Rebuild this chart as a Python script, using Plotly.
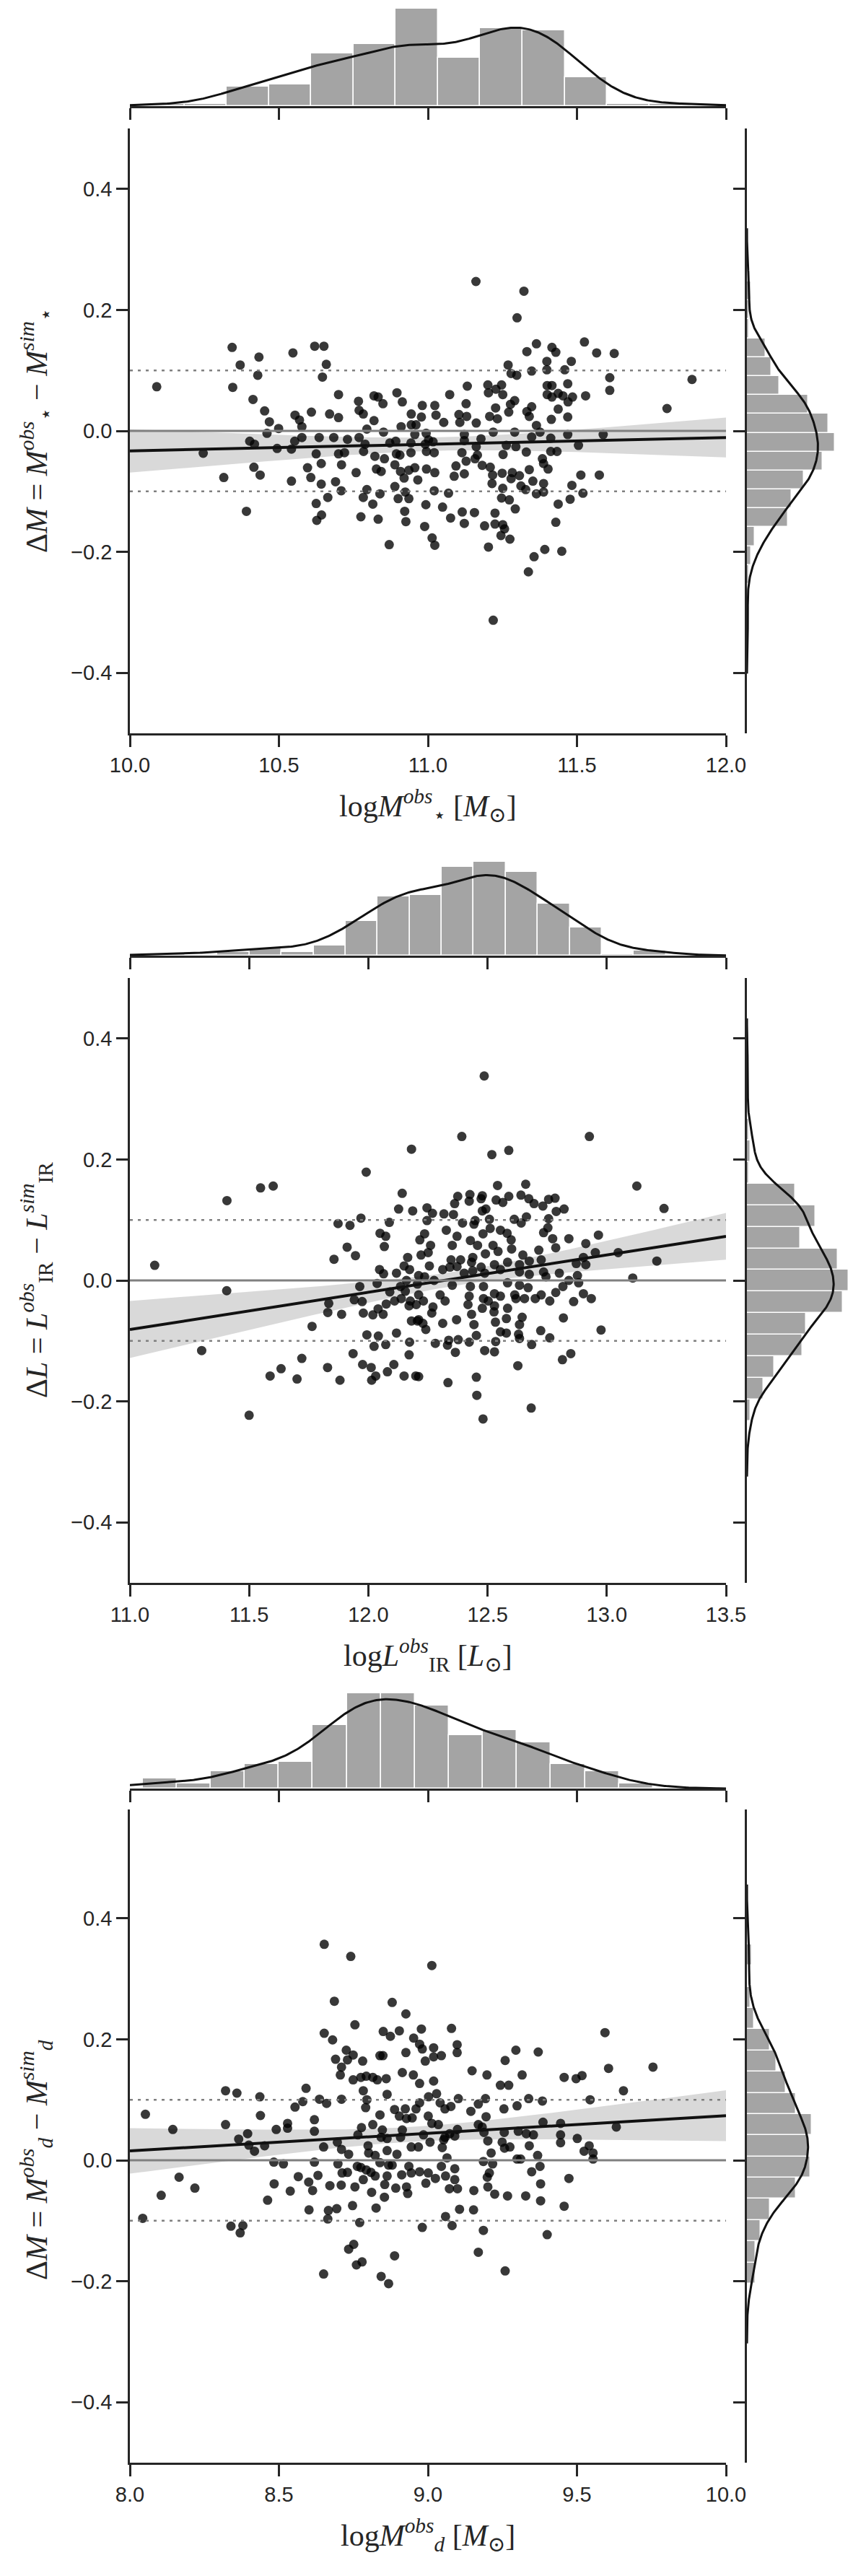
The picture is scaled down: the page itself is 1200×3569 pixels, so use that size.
import numpy as np
import plotly.graph_objects as go

# ===================== DATA =====================
# Panel 1: stellar mass
p1_x = [10.090, 10.246, 10.315, 10.343, 10.370, 10.345, 10.433, 10.429, 10.413, 10.452,
        10.468, 10.499, 10.460, 10.402, 10.418, 10.494, 10.416, 10.437, 10.391, 10.542,
        10.547, 10.620, 10.651, 10.659, 10.646, 10.554, 10.569, 10.577, 10.577, 10.553,
        10.542, 10.609, 10.700, 10.670, 10.700, 10.635, 10.625, 10.596, 10.642, 10.607,
        10.642, 10.690, 10.709, 10.664, 10.625, 10.643, 10.627, 10.684, 10.700, 10.720,
        10.710, 10.730, 10.767, 10.769, 10.783, 10.819, 10.833, 10.849, 10.819, 10.795,
        10.769, 10.789, 10.784, 10.759, 10.822, 10.854, 10.827, 10.843, 10.795, 10.783,
        10.815, 10.839, 10.775, 10.833, 10.870, 10.851, 10.896, 10.914, 10.944, 10.978,
        10.910, 10.944, 10.872, 10.894, 10.906, 10.943, 10.889, 10.908, 10.920, 10.936,
        10.956, 10.966, 10.889, 10.900, 10.924, 10.936, 10.922, 10.926, 10.993, 10.989,
        11.014, 10.981, 10.995, 10.991, 10.995, 10.994, 10.960, 10.956, 10.892, 10.943,
        11.002,
        11.161, 11.322, 11.299, 11.364, 11.332, 11.416, 11.429, 11.525, 11.566, 11.625,
        11.399, 11.481, 11.269, 11.279, 11.298, 11.348, 11.399, 11.459, 11.610, 11.610,
        11.886, 11.802, 11.132, 11.073, 11.201, 11.247, 11.203, 11.228, 11.251, 11.400,
        11.416, 11.469, 11.400, 11.416, 11.437, 11.453, 11.485, 11.470, 11.529, 11.291,
        11.277, 11.348, 11.128, 11.227, 11.271, 11.332, 11.340, 11.437, 11.469, 11.414,
        11.023, 11.027, 11.053, 11.104, 11.130, 11.107, 11.162, 11.207, 11.233, 11.364,
        11.376, 11.219, 11.291, 11.122, 11.178, 11.469, 11.588, 11.017, 11.122, 11.348,
        11.412, 11.505, 11.263, 11.295, 11.162, 11.021, 11.114, 11.166, 11.252, 11.330,
        11.412, 11.433, 11.128, 11.158, 11.182, 11.384, 11.388, 11.094, 11.209, 11.403,
        11.023, 11.340, 11.088, 11.122, 11.217, 11.249, 11.283, 11.307, 11.279, 11.513,
        11.575, 11.352, 11.215, 11.388, 11.021, 11.069, 11.251, 11.312, 11.328, 11.364,
        11.388, 11.483, 11.520, 11.247, 11.273, 11.477, 11.437, 11.049, 11.115, 11.156,
        11.225, 11.293, 11.076, 11.122, 11.190, 11.225, 11.251, 11.257, 11.429, 11.245,
        11.275, 11.023, 11.203, 11.356, 11.392, 11.449, 11.337, 11.219]
p1_y = [0.073, -0.037, -0.077, 0.138, 0.109, 0.072, 0.122, 0.092, 0.052, 0.033,
        0.015, 0.004, -0.004, -0.017, -0.022, -0.029, -0.060, -0.073, -0.133, -0.083,
        0.129, 0.140, 0.140, 0.110, 0.089, 0.026, 0.018, 0.007, -0.011, -0.017,
        -0.030, 0.031, 0.060, 0.028, 0.022, -0.011, -0.038, -0.061, -0.054, -0.077,
        -0.088, -0.084, -0.099, -0.110, -0.120, -0.139, -0.148, -0.011, -0.038, -0.036,
        -0.056, -0.014, 0.049, 0.034, 0.028, 0.058, 0.056, 0.045, 0.017, 0.003,
        -0.011, -0.022, -0.034, -0.069, -0.042, -0.046, -0.063, -0.067, -0.097, -0.110,
        -0.121, -0.104, -0.142, -0.146, -0.188, -0.002, 0.063, 0.048, 0.028, 0.023,
        0.007, 0.010, -0.020, -0.038, -0.040, -0.036, -0.056, -0.067, -0.078, -0.065,
        -0.061, -0.081, -0.092, -0.112, -0.101, -0.112, -0.133, -0.150, -0.122, -0.158,
        -0.177, 0.042, -0.063, -0.022, -0.034, -0.004, 0.010, -0.006, -0.017, -0.020,
        -0.015,
        0.247, 0.231, 0.187, 0.144, 0.131, 0.138, 0.130, 0.147, 0.129, 0.128,
        0.115, 0.115, 0.109, 0.095, 0.092, 0.099, 0.101, 0.101, 0.088, 0.067,
        0.085, 0.037, 0.074, 0.060, 0.076, 0.076, 0.063, 0.069, 0.060, 0.075,
        0.075, 0.078, 0.060, 0.056, 0.062, 0.058, 0.056, 0.048, 0.058, 0.050,
        0.044, 0.040, 0.045, 0.038, 0.031, 0.032, 0.024, 0.036, 0.023, 0.019,
        0.042, 0.026, 0.014, 0.027, 0.024, 0.014, 0.013, 0.024, 0.020, 0.009,
        -0.002, -0.002, -0.002, -0.006, -0.013, -0.006, -0.006, -0.018, -0.016, -0.010,
        -0.012, -0.024, -0.024, -0.026, -0.026, -0.036, -0.036, -0.040, -0.039, -0.035,
        -0.034, -0.034, -0.050, -0.046, -0.057, -0.046, -0.054, -0.058, -0.060, -0.063,
        -0.069, -0.064, -0.075, -0.071, -0.073, -0.070, -0.069, -0.074, -0.079, -0.073,
        -0.073, -0.083, -0.087, -0.087, -0.099, -0.103, -0.095, -0.091, -0.097, -0.104,
        -0.101, -0.090, -0.103, -0.111, -0.114, -0.113, -0.121, -0.126, -0.134, -0.135,
        -0.136, -0.129, -0.144, -0.153, -0.157, -0.154, -0.155, -0.162, -0.151, -0.173,
        -0.179, -0.189, -0.192, -0.208, -0.196, -0.199, -0.233, -0.313]
p1_xticks = [10.0, 10.5, 11.0, 11.5, 12.0]
p1_xhist_start, p1_xhist_width = 10.041, 0.1418
p1_xhist_counts = [1, 1, 10, 11, 27, 32, 50, 25, 40, 39, 15, 1, 1]
p1_yhist_start, p1_yhist_width = -0.3155, 0.03125
p1_yhist_counts = [1, 0, 1, 2, 4, 20, 22, 28, 37, 43, 40, 30, 16, 12, 9, 1, 1, 2]

# Panel 2: IR luminosity
p2_x = [11.104, 11.407, 11.406, 11.301, 11.500, 11.548, 11.601, 11.634, 11.588, 11.701,
        11.721, 11.764, 11.829, 11.881, 11.834, 11.830, 11.888, 11.856, 11.911, 11.946,
        11.873, 11.923, 11.969, 11.991, 12.181, 12.142, 12.127, 12.186, 12.088, 12.049,
        12.073, 12.067, 12.165, 12.150, 12.173, 12.047, 12.064, 12.118, 11.964, 12.037,
        11.941, 11.974, 11.979, 12.019, 12.041, 12.062, 12.090, 12.075, 12.110, 12.138,
        12.155, 12.176, 12.171, 12.201, 12.181, 12.206, 11.994, 12.042, 12.073, 12.024,
        12.118, 12.173, 12.171, 11.936, 11.976, 12.012, 12.031, 12.014, 12.080, 12.107,
        12.150, 12.199, 12.135, 12.160, 12.206,
        12.486, 12.392, 12.927, 12.518, 12.589, 12.542, 12.660, 13.126, 13.240, 12.375,
        12.362, 12.426, 12.423, 12.478, 12.473, 12.536, 12.564, 12.589, 12.640, 12.673,
        12.695, 12.732, 12.756, 12.783, 12.246, 12.269, 12.317, 12.357, 12.478, 12.493,
        12.788, 12.821, 12.246, 12.395, 12.448, 12.508, 12.612, 12.641, 12.663, 12.756,
        12.327, 12.443, 12.511, 12.554, 12.582, 12.735, 12.753, 12.236, 12.216, 12.372,
        12.428, 12.481, 12.458, 12.523, 12.599, 12.601, 12.773, 12.786, 12.841, 12.912,
        12.965, 12.352, 12.261, 12.221, 12.251, 12.347, 12.387, 12.438, 12.491, 12.544,
        12.648, 12.715, 12.952, 13.048, 13.210, 12.256, 12.312, 12.342, 12.372, 12.433,
        12.473, 12.529, 12.584, 12.634, 12.675, 12.725, 12.872, 12.912, 12.902, 12.211,
        12.236, 12.276, 12.402, 12.438, 12.488, 12.554, 12.634, 12.675, 12.735, 12.745,
        12.801, 12.877, 13.109, 12.352, 12.428, 12.483, 12.584, 12.634, 12.670, 12.816,
        12.841, 12.882, 12.211, 12.301, 12.322, 12.423, 12.483, 12.529, 12.554, 12.614,
        12.619, 12.655, 12.700, 12.725, 12.761, 12.786, 12.861, 12.902, 12.935, 12.231,
        12.271, 12.266, 12.418, 12.433, 12.478, 12.503, 12.529, 12.527, 12.584, 12.211,
        12.229, 12.241, 12.312, 12.370, 12.443, 12.533, 12.579, 12.645, 12.634, 12.818,
        12.723, 12.976, 12.453, 12.554, 12.579, 12.630, 12.634, 12.761, 12.281, 12.332,
        12.337, 12.377, 12.423, 12.534, 12.685, 12.365, 12.488, 12.529, 12.849, 12.814,
        12.627, 12.211, 12.334, 12.453, 12.455, 12.683, 12.481]
p2_y = [0.025, 0.132, -0.017, -0.116, -0.223, 0.153, 0.156, -0.146, -0.158, -0.163,
        -0.129, -0.076, -0.144, -0.165, -0.038, -0.053, -0.056, 0.035, 0.055, 0.041,
        0.094, 0.091, 0.103, 0.179, 0.217, 0.144, 0.118, 0.115, 0.096, 0.078,
        0.073, 0.056, 0.038, 0.024, 0.018, 0.018, 0.011, 0.012, -0.010, -0.005,
        -0.032, -0.035, -0.054, -0.057, -0.047, -0.056, -0.019, -0.039, -0.034, -0.030,
        -0.018, -0.034, -0.042, -0.040, -0.067, -0.067, -0.090, -0.092, -0.106, -0.109,
        -0.087, -0.102, -0.123, -0.121, -0.139, -0.144, -0.158, -0.165, -0.151, -0.139,
        -0.158, -0.158, -0.010, 0.000, -0.006,
        0.338, 0.238, 0.238, 0.208, 0.215, 0.157, 0.159, 0.156, 0.119, 0.139,
        0.127, 0.142, 0.131, 0.140, 0.135, 0.133, 0.129, 0.139, 0.141, 0.135,
        0.127, 0.123, 0.134, 0.136, 0.120, 0.111, 0.110, 0.109, 0.115, 0.118,
        0.114, 0.118, 0.099, 0.095, 0.099, 0.101, 0.101, 0.095, 0.105, 0.102,
        0.083, 0.093, 0.086, 0.083, 0.078, 0.079, 0.087, 0.077, 0.067, 0.073,
        0.066, 0.077, 0.058, 0.058, 0.067, 0.052, 0.069, 0.054, 0.069, 0.061,
        0.075, 0.058, 0.058, 0.042, 0.046, 0.034, 0.034, 0.038, 0.044, 0.048,
        0.042, 0.050, 0.046, 0.046, 0.032, 0.024, 0.018, 0.022, 0.023, 0.030,
        0.022, 0.026, 0.030, 0.026, 0.032, 0.034, 0.028, 0.026, 0.038, 0.008,
        0.006, 0.000, 0.012, 0.016, 0.012, 0.018, 0.014, 0.010, 0.014, 0.006,
        0.012, 0.008, 0.004, -0.008, -0.010, -0.010, -0.004, -0.008, -0.012, -0.010,
        0.000, -0.004, -0.024, -0.024, -0.034, -0.026, -0.030, -0.022, -0.026, -0.024,
        -0.030, -0.030, -0.030, -0.024, -0.034, -0.020, -0.035, -0.022, -0.030, -0.034,
        -0.044, -0.054, -0.040, -0.056, -0.046, -0.034, -0.042, -0.052, -0.046, -0.065,
        -0.071, -0.081, -0.071, -0.065, -0.073, -0.069, -0.063, -0.061, -0.073, -0.062,
        -0.083, -0.082, -0.091, -0.085, -0.087, -0.089, -0.096, -0.095, -0.104, -0.107,
        -0.099, -0.098, -0.102, -0.101, -0.106, -0.119, -0.116, -0.118, -0.121, -0.131,
        -0.141, -0.159, -0.169, -0.160, -0.190, -0.211, -0.229]
p2_xticks = [11.0, 11.5, 12.0, 12.5, 13.0, 13.5]
p2_xhist_start, p2_xhist_width = 11.099, 0.1343
p2_xhist_counts = [1, 0, 2, 4, 2, 6, 20, 34, 35, 51, 54, 48, 30, 16, 1, 3]
p2_yhist_start, p2_yhist_width = -0.2325, 0.0357
p2_yhist_counts = [2, 9, 15, 30, 32, 52, 55, 49, 29, 37, 26, 1, 2, 1, 0, 1]

# Panel 3: dust mass
p3_x = [8.052, 8.043, 8.105, 8.144, 8.165, 8.218, 8.321, 8.359, 8.321, 8.339,
        8.379, 8.370, 8.365, 8.395, 8.399, 8.418, 8.436, 8.438, 8.452, 8.462,
        8.483, 8.484, 8.491, 8.515, 8.529, 8.529, 8.538, 8.554, 8.580, 8.591,
        8.565, 8.600, 8.613, 8.601, 8.619, 8.619, 8.619, 8.631, 8.636, 8.652,
        8.652, 8.680, 8.686, 8.690, 8.660, 8.650, 8.666, 8.664, 8.650, 8.671,
        8.694, 8.696, 8.698, 8.709, 8.710, 8.706, 8.710, 8.726, 8.730, 8.749,
        8.741, 8.755, 8.749, 8.781, 8.775, 8.793, 8.815, 8.830, 8.860, 8.783,
        8.795, 8.791, 8.863, 8.839, 8.815, 8.777, 8.765, 8.710, 8.734, 8.763,
        8.775, 8.793, 8.809, 8.823, 8.783, 8.730, 8.712, 8.755, 8.747, 8.771,
        8.751, 8.734, 8.779, 8.760, 8.811, 8.826, 8.843, 8.868, 8.888, 8.799,
        8.801, 8.823, 8.839, 8.843, 8.847, 8.863, 8.863, 8.868, 8.880, 8.863,
        8.855, 8.892, 8.854, 8.896, 8.912, 8.928, 8.932, 8.936, 8.944, 8.880,
        8.926, 8.850, 8.874, 8.904, 8.952, 8.926, 8.914, 8.951, 8.839, 8.849,
        8.888, 8.904, 8.924, 8.928, 8.947, 8.960, 8.914, 8.908, 8.944,
        9.013, 8.978, 9.079, 9.594, 8.972, 8.981, 9.019, 9.019, 9.045, 8.991,
        9.098, 9.098, 9.295, 9.370, 9.259, 9.606, 9.755, 9.148, 9.198, 9.316,
        9.457, 9.497, 9.517, 8.972, 9.019, 9.243, 9.271, 9.656, 9.002, 9.029,
        9.102, 9.193, 9.338, 9.384, 9.544, 8.972, 9.041, 9.057, 9.077, 9.169,
        9.144, 9.255, 9.299, 9.001, 9.195, 9.013, 9.035, 9.169, 9.182, 9.386,
        9.445, 9.632, 9.099, 9.073, 9.090, 8.985, 9.057, 9.256, 9.303, 9.330,
        9.354, 9.445, 9.188, 8.968, 9.007, 9.048, 9.053, 9.201, 9.249, 9.257,
        9.275, 9.340, 9.445, 9.501, 9.541, 9.524, 9.554, 9.554, 9.212, 9.368,
        9.064, 9.186, 9.217, 9.299, 9.311, 9.376, 9.045, 9.090, 8.972, 9.001,
        9.025, 8.993, 9.059, 9.090, 9.206, 9.199, 9.348, 9.473, 9.072, 9.099,
        9.154, 9.201, 9.224, 9.267, 9.328, 9.378, 9.378, 9.457, 9.106, 9.153,
        9.059, 8.981, 9.081, 9.186, 9.400, 9.169, 9.259]
p3_y = [0.076, -0.096, -0.058, 0.051, -0.028, -0.046, 0.115, 0.111, 0.059, -0.109,
        -0.108, -0.120, 0.035, 0.044, 0.025, 0.015, 0.105, 0.074, 0.024, -0.066,
        -0.003, -0.039, 0.051, -0.006, 0.061, 0.053, -0.051, 0.088, 0.097, 0.119,
        -0.027, -0.036, -0.050, -0.082, 0.067, 0.048, -0.003, -0.025, 0.101, 0.357,
        0.210, 0.199, 0.263, 0.167, 0.094, 0.022, -0.083, -0.097, -0.188, -0.042,
        -0.080, 0.030, -0.006, -0.041, 0.101, 0.141, 0.154, 0.182, 0.166, 0.174,
        0.337, 0.224, 0.133, 0.164, 0.137, 0.139, 0.137, 0.133, 0.135, 0.115,
        0.100, 0.087, 0.109, 0.075, 0.059, 0.054, 0.042, 0.018, 0.010, -0.010,
        -0.012, -0.016, -0.020, -0.026, -0.032, -0.020, -0.021, -0.044, -0.075, -0.103,
        -0.139, -0.147, -0.168, -0.173, -0.053, -0.079, -0.192, -0.204, -0.158, 0.024,
        0.012, 0.008, -0.004, 0.038, 0.050, 0.036, 0.016, -0.008, -0.008, -0.026,
        -0.040, -0.046, -0.061, 0.010, -0.024, -0.044, -0.055, -0.010, -0.021, 0.261,
        0.242, 0.213, 0.205, 0.214, 0.202, 0.178, 0.145, 0.141, 0.173, 0.173,
        0.084, 0.073, 0.085, 0.069, 0.070, 0.085, 0.050, 0.038, 0.022,
        0.322, 0.217, 0.218, 0.211, 0.192, 0.184, 0.186, 0.171, 0.173, 0.164,
        0.191, 0.178, 0.182, 0.179, 0.165, 0.152, 0.154, 0.148, 0.141, 0.141,
        0.137, 0.135, 0.140, 0.127, 0.131, 0.124, 0.124, 0.115, 0.105, 0.110,
        0.102, 0.102, 0.102, 0.098, 0.100, 0.095, 0.095, 0.085, 0.089, 0.093,
        0.081, 0.085, 0.090, 0.073, 0.072, 0.061, 0.059, 0.059, 0.055, 0.063,
        0.061, 0.055, 0.051, 0.044, 0.040, 0.042, 0.038, 0.046, 0.048, 0.044,
        0.042, 0.042, 0.046, 0.022, 0.030, 0.021, 0.034, 0.032, 0.030, 0.020,
        0.022, 0.024, 0.029, 0.036, 0.024, 0.015, 0.012, 0.002, 0.012, 0.008,
        0.004, -0.002, -0.006, 0.002, 0.002, -0.010, -0.010, -0.014, -0.019, -0.021,
        -0.030, -0.038, -0.026, -0.032, -0.021, -0.028, -0.019, -0.030, -0.047, -0.047,
        -0.050, -0.044, -0.056, -0.059, -0.059, -0.039, -0.067, -0.076, -0.081, -0.082,
        -0.093, -0.111, -0.108, -0.116, -0.123, -0.152, -0.183]
p3_xticks = [8.0, 8.5, 9.0, 9.5, 10.0]
p3_xhist_bins = 15
p3_yhist_bins = 16

yticks = [-0.4, -0.2, 0.0, 0.2, 0.4]
ref_levels = [0.0, 0.1, -0.1]

# ===================== STYLE / LAYOUT =====================
W, H = 1200, 3569
INK = '#262626'
TICKFONT = dict(family='Liberation Sans, Arial, sans-serif', size=29, color=INK)
LABFONT = dict(family='Liberation Serif, DejaVu Serif, serif', size=42, color=INK)
BARCOL = '#a4a4a4'
MX0, MX1 = 180, 1006      # main axes x pixels
RX0, RX1 = 1035, 1200     # right marginal x pixels


def px(v):
    return v / W


def py(v):
    return 1 - v / H


def kde(data, grid):
    d = np.asarray(data, float)
    n = len(d)
    bw = d.std(ddof=1) * n ** (-0.2)
    z = (grid[:, None] - d[None, :]) / bw
    return np.exp(-0.5 * z ** 2).sum(1) / (n * bw * np.sqrt(2 * np.pi)), bw


def regfit(x, y, lo, hi):
    x = np.asarray(x, float)
    y = np.asarray(y, float)
    b, a = np.polyfit(x, y, 1)
    g = np.linspace(lo, hi, 120)
    yh = a + b * g
    n = len(x)
    s = np.sqrt(((y - (a + b * x)) ** 2).sum() / (n - 2))
    sxx = ((x - x.mean()) ** 2).sum()
    se = s * np.sqrt(1.0 / n + (g - x.mean()) ** 2 / sxx)
    return g, yh, yh - 1.96 * se, yh + 1.96 * se


def hist_from(start, width, counts):
    c = np.asarray(counts, float)
    edges = start + width * np.arange(len(c) + 1)
    dens = c / (c.sum() * width)
    return edges, dens


p3_xc, p3_xe = np.histogram(p3_x, bins=p3_xhist_bins)
p3_yc, p3_ye = np.histogram(p3_y, bins=p3_yhist_bins)

panels = [
    dict(x=p1_x, y=p1_y, xr=[10.0, 12.0], yr=[-0.5, 0.5], xticks=p1_xticks,
         xh=hist_from(p1_xhist_start, p1_xhist_width, p1_xhist_counts),
         yh=hist_from(p1_yhist_start, p1_yhist_width, p1_yhist_counts),
         top=178, bot=1016, mtop=0, mbot=147, bar_top=12, bar_right=1157,
         ylab='Δ<i>M</i> = <i>M</i><sup><i>obs</i></sup><sub>⋆</sub> − <i>M</i><sup><i>sim</i></sup><sub>⋆</sub>',
         xlab='log<i>M</i><sup><i>obs</i></sup><sub>⋆</sub> [<i>M</i><sub>⊙</sub>]'),
    dict(x=p2_x, y=p2_y, xr=[11.0, 13.5], yr=[-0.5, 0.5], xticks=p2_xticks,
         xh=hist_from(p2_xhist_start, p2_xhist_width, p2_xhist_counts),
         yh=hist_from(p2_yhist_start, p2_yhist_width, p2_yhist_counts),
         top=1355, bot=2193, mtop=1174, mbot=1324, bar_top=1194, bar_right=1176,
         ylab='Δ<i>L</i> = <i>L</i><sup><i>obs</i></sup><sub>IR</sub> − <i>L</i><sup><i>sim</i></sup><sub>IR</sub>',
         xlab='log<i>L</i><sup><i>obs</i></sup><sub>IR</sub> [<i>L</i><sub>⊙</sub>]'),
    dict(x=p3_x, y=p3_y, xr=[8.0, 10.0], yr=[-0.5, 0.58], xticks=p3_xticks,
         xh=(p3_xe, p3_xc / (p3_xc.sum() * (p3_xe[1] - p3_xe[0]))),
         yh=(p3_ye, p3_yc / (p3_yc.sum() * (p3_ye[1] - p3_ye[0]))),
         top=2507, bot=3412, mtop=2326, mbot=2478, bar_top=2346, bar_right=1125,
         ylab='Δ<i>M</i> = <i>M</i><sup><i>obs</i></sup><sub><i>d</i></sub> − <i>M</i><sup><i>sim</i></sup><sub><i>d</i></sub>',
         xlab='log<i>M</i><sup><i>obs</i></sup><sub><i>d</i></sub> [<i>M</i><sub>⊙</sub>]'),
]

fig = go.Figure()
layout = dict(width=W, height=H, margin=dict(l=0, r=0, t=0, b=0),
              paper_bgcolor='white', plot_bgcolor='white', showlegend=False,
              shapes=[], annotations=[])

axis_common = dict(showgrid=False, zeroline=False, automargin=False,
                   linecolor=INK, linewidth=2.5, ticks='outside', ticklen=16,
                   tickwidth=2.5, tickcolor=INK, tickfont=TICKFONT)

for i, P in enumerate(panels):
    nm, nt, nr = 3 * i + 1, 3 * i + 2, 3 * i + 3
    s = lambda n: '' if n == 1 else str(n)
    xm, ym = 'x' + s(nm), 'y' + s(nm)
    xt, yt = 'x' + s(nt), 'y' + s(nt)
    xr_, yr_ = 'x' + s(nr), 'y' + s(nr)

    # --- main axes
    layout['xaxis' + s(nm)] = dict(axis_common, domain=[px(MX0), px(MX1)], range=P['xr'],
                                   anchor=ym, tickvals=P['xticks'], tickformat='.1f',
                                   showline=True)
    layout['yaxis' + s(nm)] = dict(axis_common, domain=[py(P['bot']), py(P['top'])],
                                   range=P['yr'], anchor=xm, tickvals=yticks,
                                   tickformat='.1f', showline=True)

    fig.add_trace(go.Scatter(x=P['x'], y=P['y'], mode='markers', xaxis=xm, yaxis=ym,
                             marker=dict(size=13, color='rgba(0,0,0,0.78)', line=dict(width=0)),
                             hoverinfo='skip'))
    g, yh, lo, hi = regfit(P['x'], P['y'], P['xr'][0], P['xr'][1])
    fig.add_trace(go.Scatter(x=np.concatenate([g, g[::-1]]), y=np.concatenate([hi, lo[::-1]]),
                             fill='toself', fillcolor='rgba(0,0,0,0.15)', mode='lines',
                             line=dict(width=0), xaxis=xm, yaxis=ym, hoverinfo='skip'))
    fig.add_trace(go.Scatter(x=g, y=yh, mode='lines', line=dict(color='#111111', width=4),
                             xaxis=xm, yaxis=ym, hoverinfo='skip'))

    for lv in ref_levels:
        layout['shapes'].append(dict(type='line', xref=xm + ' domain', yref=ym,
                                     x0=0, x1=1, y0=lv, y1=lv, layer='above',
                                     line=dict(color='#808080', width=3 if lv == 0 else 2.5,
                                               dash='solid' if lv == 0 else '4px,7px')))

    # --- top marginal (x distribution)
    edges, dens = P['xh']
    edges = np.asarray(edges, float)
    cen = 0.5 * (edges[:-1] + edges[1:])
    wid = np.diff(edges)
    gx = np.linspace(P['xr'][0], P['xr'][1], 400)
    kx, _ = kde(P['x'], gx)
    frac = (P['mbot'] - P['bar_top']) / (P['mbot'] - P['mtop'])
    layout['xaxis' + s(nt)] = dict(axis_common, domain=[px(MX0), px(MX1)], range=P['xr'],
                                   anchor=yt, tickvals=P['xticks'], showticklabels=False,
                                   showline=True)
    layout['yaxis' + s(nt)] = dict(domain=[py(P['mbot']), py(P['mtop'])],
                                   range=[0, dens.max() / frac], anchor=xt, visible=False,
                                   showgrid=False, zeroline=False)
    fig.add_trace(go.Bar(x=cen, y=dens, width=wid, xaxis=xt, yaxis=yt,
                         marker=dict(color=BARCOL, line=dict(color='white', width=1.5)),
                         hoverinfo='skip'))
    fig.add_trace(go.Scatter(x=gx, y=kx, mode='lines', line=dict(color='#111111', width=3),
                             xaxis=xt, yaxis=yt, hoverinfo='skip', cliponaxis=False))

    # --- right marginal (y distribution)
    edges, dens = P['yh']
    edges = np.asarray(edges, float)
    cen = 0.5 * (edges[:-1] + edges[1:])
    wid = np.diff(edges)
    yd = np.asarray(P['y'], float)
    kk, bw = kde(yd, np.array([0.0]))
    gy = np.linspace(max(P['yr'][0], yd.min() - 3 * bw), min(P['yr'][1], yd.max() + 3 * bw), 400)
    ky, _ = kde(yd, gy)
    fracr = (P['bar_right'] - RX0) / (RX1 - RX0)
    layout['xaxis' + s(nr)] = dict(domain=[px(RX0), px(RX1)], range=[0, dens.max() / fracr],
                                   anchor=yr_, visible=False, showgrid=False, zeroline=False)
    layout['yaxis' + s(nr)] = dict(axis_common, domain=[py(P['bot']), py(P['top'])],
                                   range=P['yr'], anchor=xr_, tickvals=yticks,
                                   showticklabels=False, showline=True)
    fig.add_trace(go.Bar(y=cen, x=dens, width=wid, orientation='h', xaxis=xr_, yaxis=yr_,
                         marker=dict(color=BARCOL, line=dict(color='white', width=1.5)),
                         hoverinfo='skip'))
    fig.add_trace(go.Scatter(x=ky, y=gy, mode='lines', line=dict(color='#111111', width=3),
                             xaxis=xr_, yaxis=yr_, hoverinfo='skip'))

    # --- axis labels (centred on y = 0)
    y0px = P['bot'] - (0 - P['yr'][0]) / (P['yr'][1] - P['yr'][0]) * (P['bot'] - P['top'])
    layout['annotations'].append(dict(text=P['ylab'], xref='paper', yref='paper',
                                      x=px(50), y=py(y0px),
                                      textangle=-90, showarrow=False, font=LABFONT,
                                      xanchor='center', yanchor='middle'))
    layout['annotations'].append(dict(text=P['xlab'], xref='paper', yref='paper',
                                      x=px(0.5 * (MX0 + MX1)), y=py(P['bot'] + 100),
                                      showarrow=False, font=LABFONT,
                                      xanchor='center', yanchor='middle'))

layout['bargap'] = 0
fig.update_layout(**layout)
fig.write_html("out.html", config={'displayModeBar': False},
               post_script="document.body.style.margin='0px';")
